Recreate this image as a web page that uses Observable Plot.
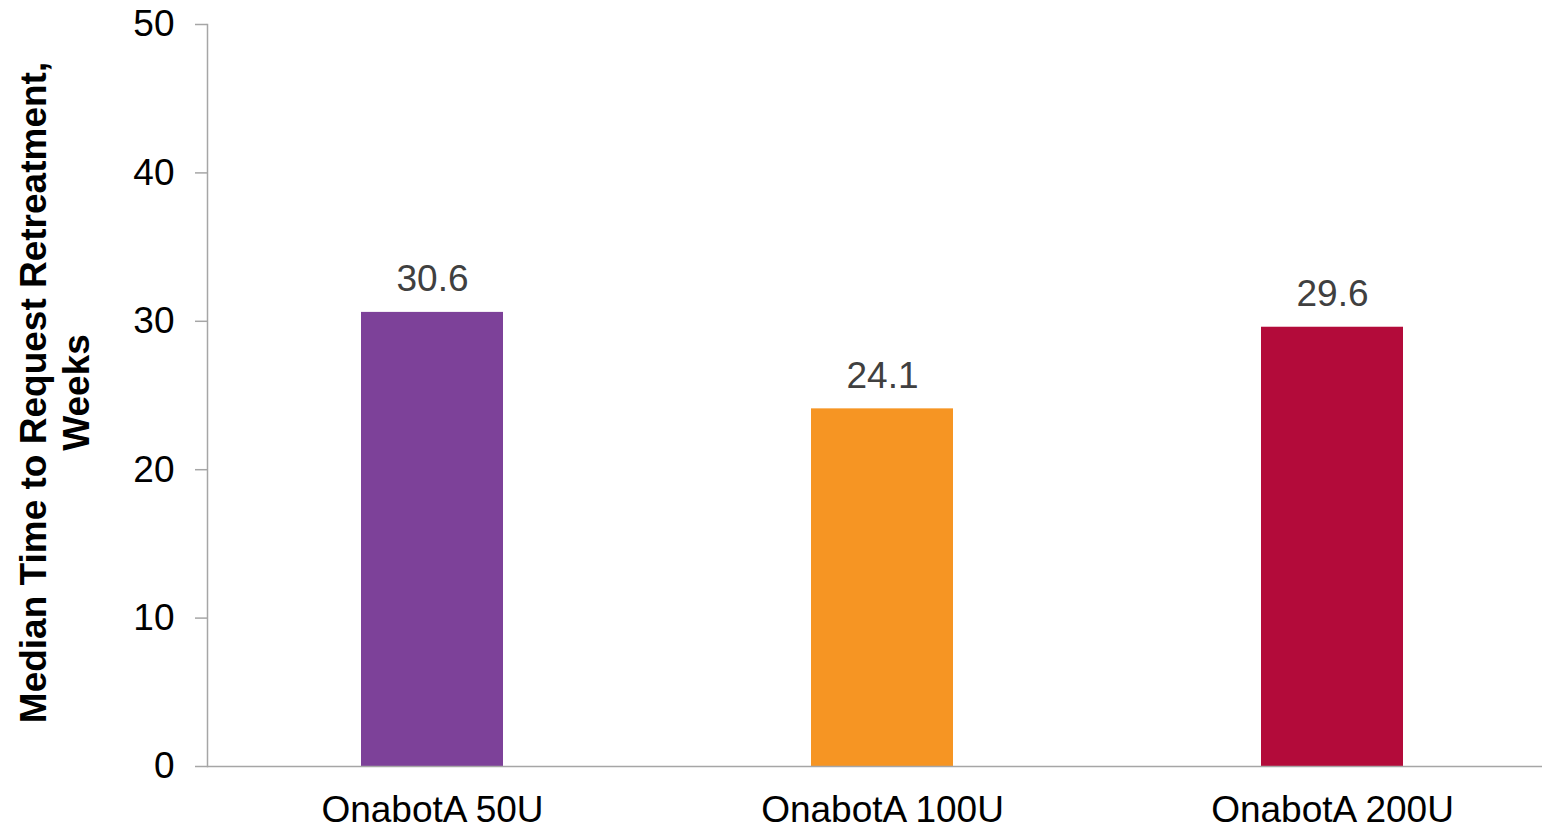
<!DOCTYPE html>
<html>
<head>
<meta charset="utf-8">
<script src="https://cdn.jsdelivr.net/npm/d3@7"></script>
<script src="https://cdn.jsdelivr.net/npm/@observablehq/plot@0.6"></script>
<style>
  html, body { margin: 0; padding: 0; background: #fff; }
  svg { display: block; font-family: "Liberation Sans", Arial, sans-serif; }
</style>
</head>
<body>
<div id="chart"></div>
<script>
const categories = ["OnabotA 50U", "OnabotA 100U", "OnabotA 200U"];
const values = [30.6, 24.1, 29.6];
const colors = ["#7D4199", "#F69523", "#B30B3A"];
const yTicks = [0, 10, 20, 30, 40, 50];
const yTitle = "Median Time to Request Retreatment,\nWeeks";

const data = categories.map((c, i) => ({cat: c, value: values[i], color: colors[i]}));

const chart = Plot.plot({
  width: 1542,
  height: 829,
  marginTop: 24,
  marginBottom: 63,
  marginLeft: 207,
  marginRight: 0,
  style: {fontFamily: '"Liberation Sans", Arial, sans-serif', background: "#fff"},
  x: {domain: categories, range: [207, 1557], paddingInner: 0.684, paddingOuter: 0.342, axis: null},
  y: {domain: [0, 50], axis: null},
  marks: [
    Plot.barY(data, {x: "cat", y: "value", fill: "color"}),
    Plot.frame({anchor: "left", stroke: "#a6a6a6", strokeWidth: 1.5}),
    Plot.axisY({ticks: yTicks, tickSize: 12, tickPadding: 21, stroke: "#a6a6a6", strokeWidth: 1.5, fill: "#000", fontSize: 37, label: null, tickFormat: d => String(d)}),
    Plot.axisX({tickSize: 0, tickPadding: 29, fill: "#000", fontSize: 37, label: null}),
    Plot.ruleY([0], {stroke: "#a6a6a6", strokeWidth: 1.5}),
    Plot.text(data, {x: "cat", y: "value", text: d => d.value.toFixed(1), fill: "#404040", fontSize: 37, lineAnchor: "middle", dy: -33}),
    Plot.text([yTitle], {frameAnchor: "left", text: d => d, rotate: -90, textAnchor: "middle", dx: -153.5, dy: -3, fontSize: 37, fontWeight: "bold", fill: "#000", lineAnchor: "middle", lineHeight: 1.17})
  ]
});

document.getElementById("chart").append(chart);
</script>
</body>
</html>
